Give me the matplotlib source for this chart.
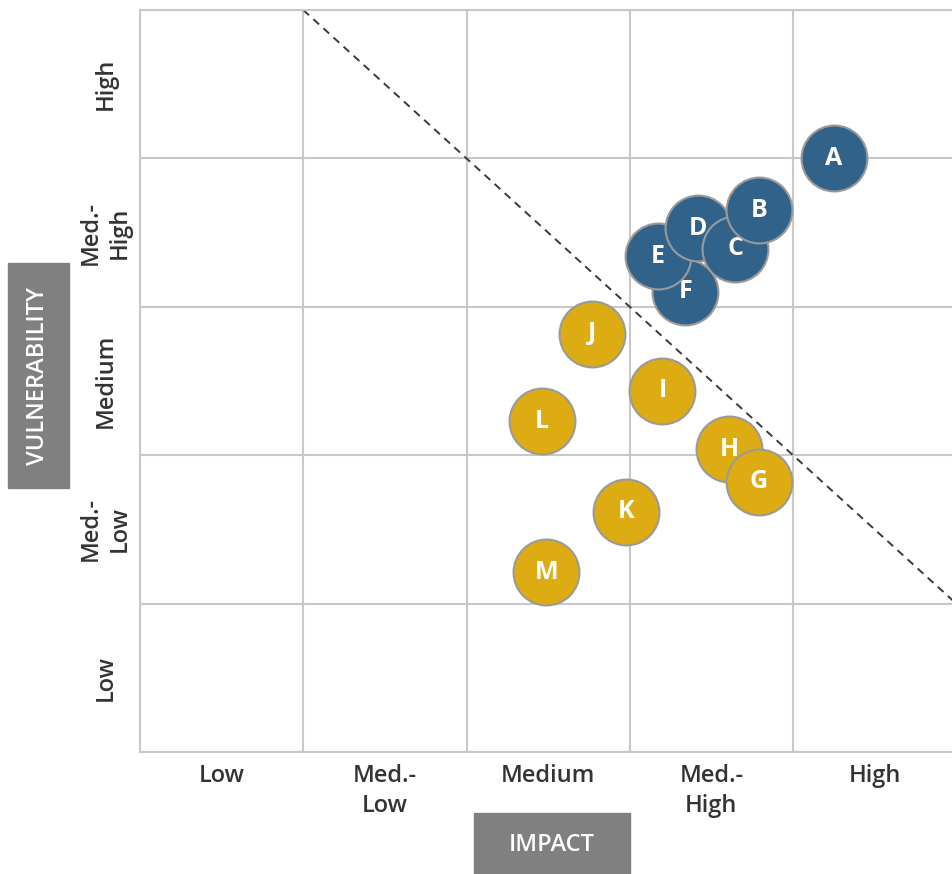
import matplotlib
matplotlib.use("Agg")
import matplotlib.pyplot as plt
from matplotlib.patches import Rectangle

plt.rcParams['font.family'] = ['Open Sans', 'DejaVu Sans']

# ---- data ----
labels = ["A", "B", "C", "D", "E", "F", "G", "H", "I", "J", "K", "L", "M"]
impact = [4.25, 3.79, 3.645, 3.42, 3.17, 3.34, 3.79, 3.61, 3.20, 2.77, 2.98, 2.46, 2.49]
vulnerability = [4.00, 3.65, 3.39, 3.53, 3.34, 3.10, 1.82, 2.04, 2.435, 2.82, 1.62, 2.23, 1.21]
group = ["high", "high", "high", "high", "high", "high",
         "low", "low", "low", "low", "low", "low", "low"]
x_categories = ["Low", "Med.-\nLow", "Medium", "Med.-\nHigh", "High"]
y_categories = ["Low", "Med.-\nLow", "Medium", "Med.-\nHigh", "High"]
threshold_x = [1, 5]
threshold_y = [5, 1]

colors = {"high": "#31638A", "low": "#DDAC12"}

W, H = 952, 874
fig = plt.figure(figsize=(W / 100, H / 100), dpi=100)
ax = fig.add_axes([140 / W, (H - 752) / H, 816.25 / W, 742 / H])
ax.set_xlim(0, 5)
ax.set_ylim(0, 5)

grid_c = "#C8C8C8"
ax.set_xticks(range(6))
ax.set_yticks(range(6))
ax.set_xticklabels([])
ax.set_yticklabels([])
ax.grid(True, which="major", color=grid_c, linewidth=1.5)
ax.tick_params(which="major", length=0)
for s in ax.spines.values():
    s.set_color(grid_c)
    s.set_linewidth(1.5)

ax.set_xticks([i + 0.5 for i in range(5)], minor=True)
ax.set_yticks([i + 0.5 for i in range(5)], minor=True)
ax.set_xticklabels(x_categories, minor=True, fontsize=17, color="#333333",
                   linespacing=1.3, fontweight="semibold")
ax.set_yticklabels(y_categories, minor=True, fontsize=17, color="#333333",
                   linespacing=1.3, fontweight="semibold")
ax.tick_params(which="minor", length=0)
ax.tick_params(axis="x", which="minor", pad=9)
ax.tick_params(axis="y", which="minor", pad=25)
for t in ax.get_yticklabels(minor=True):
    t.set_rotation(90)
    t.set_ha("center")
    t.set_va("center")

# threshold line
ax.plot(threshold_x, threshold_y, linestyle=(0, (4, 3)), color="#3A3A3A",
        linewidth=1.4, zorder=2)

# bubbles (drawn in reverse so earlier letters sit on top)
for i in reversed(range(len(labels))):
    ax.scatter(impact[i], vulnerability[i], s=2250, color=colors[group[i]],
               edgecolors="#9A9A9A", linewidths=1.5, zorder=3 + (len(labels) - i) * 0.01)
    ax.text(impact[i], vulnerability[i], labels[i], ha="center", va="center",
            color="white", fontsize=18, fontweight="bold",
            zorder=3 + (len(labels) - i) * 0.01 + 0.005)

# axis title boxes
box_c = "#808080"
fig.patches.append(Rectangle((8 / W, (H - 488) / H), 61 / W, 225 / H,
                             transform=fig.transFigure, color=box_c, zorder=0))
fig.text(38.5 / W, (H - 376) / H, "VULNERABILITY", rotation=90, ha="center",
         va="center", color="white", fontsize=17, fontweight="semibold")
fig.patches.append(Rectangle((474 / W, 0), 156 / W, 61 / H,
                             transform=fig.transFigure, color=box_c, zorder=0))
fig.text(552 / W, (H - 845) / H, "IMPACT", ha="center", va="center",
         color="white", fontsize=17, fontweight="semibold")

fig.savefig("out.png", dpi=100)
